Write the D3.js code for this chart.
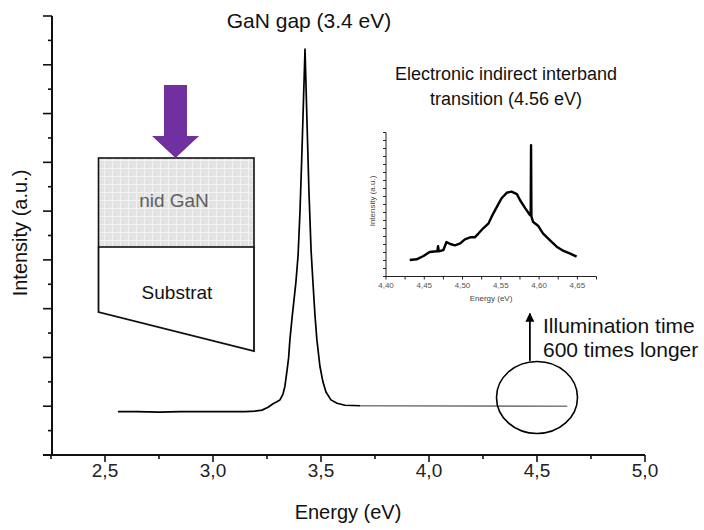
<!DOCTYPE html>
<html>
<head>
<meta charset="utf-8">
<script src="https://cdn.jsdelivr.net/npm/d3@7"></script>
<style>
  html, body { margin: 0; padding: 0; background: #fff; }
  svg { display: block; font-family: "Liberation Sans", Arial, sans-serif; }
</style>
</head>
<body>
<svg id="chart" width="704" height="530"></svg>
<script>
// ---- main spectrum (photoluminescence) ----
const mainEnergy = [2.56, 2.65, 2.75, 2.85, 2.95, 3.05, 3.15, 3.194, 3.227, 3.255, 3.278, 3.296, 3.31, 3.324, 3.333, 3.343, 3.35, 3.356, 3.366, 3.375, 3.384, 3.394, 3.403, 3.412, 3.426, 3.435, 3.444, 3.454, 3.463, 3.472, 3.481, 3.495, 3.509, 3.523, 3.546, 3.574, 3.611, 3.681];
const mainIntensity = [0.89, 0.89, 0.88, 0.89, 0.89, 0.89, 0.89, 0.90, 0.92, 0.98, 1.05, 1.09, 1.13, 1.25, 1.41, 1.74, 1.99, 2.36, 2.81, 3.18, 3.55, 4.10, 5.02, 6.25, 8.32, 6.86, 5.43, 4.20, 3.52, 2.87, 2.36, 1.82, 1.50, 1.29, 1.13, 1.06, 1.02, 1.01];
// grey tail (long illumination region)
const tailEnergy = [3.681, 4.64];
const tailIntensity = [1.01, 1.0];
// ---- inset spectrum ----
const insetEnergy = [4.431, 4.440, 4.449, 4.457, 4.466, 4.467, 4.468, 4.469, 4.475, 4.479, 4.484, 4.490, 4.497, 4.503, 4.510, 4.516, 4.521, 4.527, 4.534, 4.538, 4.545, 4.551, 4.558, 4.564, 4.571, 4.575, 4.582, 4.588, 4.589, 4.5895, 4.590, 4.592, 4.599, 4.605, 4.614, 4.623, 4.632, 4.640, 4.649];
const insetIntensity = [2.06, 2.15, 2.56, 3.06, 3.15, 3.15, 3.8, 3.15, 3.31, 4.31, 4.06, 3.9, 4.15, 4.65, 4.9, 4.9, 5.4, 6.03, 6.65, 7.48, 8.73, 9.78, 10.48, 10.6, 10.3, 9.56, 8.52, 7.69, 7.6, 16.4, 7.5, 6.85, 6.31, 5.4, 4.56, 3.73, 3.19, 2.9, 2.48];
// ---- ticks ----
const mainXTicks = [2.5, 3.0, 3.5, 4.0, 4.5, 5.0];
const mainXTickLabels = ["2,5", "3,0", "3,5", "4,0", "4,5", "5,0"];
const insetXTicks = [4.40, 4.45, 4.50, 4.55, 4.60, 4.65];
const insetXTickLabels = ["4,40", "4,45", "4,50", "4,55", "4,60", "4,65"];
// ---- texts ----
const titleGap = "GaN gap (3.4 eV)";
const insetTitle = ["Electronic indirect interband", "transition (4.56 eV)"];
const illumText = ["Illumination time", "600 times longer"];
const xLabel = "Energy (eV)";
const yLabel = "Intensity (a.u.)";
const layerLabels = ["nid GaN", "Substrat"];
// annotation ellipse (data coords)
const circleCenter = [4.50, 1.18];
const arrowFrom = [4.467, 1.93];
const arrowTo = [4.467, 2.90];

const svg = d3.select("#chart");
const defs = svg.append("defs");

// ---------- main axes ----------
const x = d3.scaleLinear().domain([2.25, 5.0]).range([51, 645]);
const y = d3.scaleLinear().domain([0, 9]).range([455, 16]);

const gMain = svg.append("g");
// x axis
const xMinor = d3.range(2.25, 5.001, 0.25).filter(v => !mainXTicks.some(t => Math.abs(t - v) < 1e-6));
const xAxisG = gMain.append("g").attr("transform", "translate(0,455)");
xAxisG.append("line").attr("x1", 43).attr("x2", 645).attr("y1", 0).attr("y2", 0).attr("stroke", "#111").attr("stroke-width", 2);
xAxisG.selectAll("line.maj").data(mainXTicks).join("line").attr("class", "maj")
  .attr("x1", d => x(d)).attr("x2", d => x(d)).attr("y1", 0).attr("y2", 7).attr("stroke", "#111").attr("stroke-width", 1.6);
xAxisG.selectAll("line.min").data(xMinor).join("line").attr("class", "min")
  .attr("x1", d => x(d)).attr("x2", d => x(d)).attr("y1", 0).attr("y2", 4).attr("stroke", "#111").attr("stroke-width", 1.6);
xAxisG.selectAll("text").data(mainXTicks).join("text")
  .attr("x", d => x(d)).attr("y", 22).attr("text-anchor", "middle")
  .attr("font-size", 19).attr("fill", "#222").text((d, i) => mainXTickLabels[i]);

// y axis
const yAll = d3.range(0, 9.001, 0.5);
const yAxisG = gMain.append("g").attr("transform", "translate(52,0)");
yAxisG.append("line").attr("x1", 0).attr("x2", 0).attr("y1", y(9)).attr("y2", y(0)).attr("stroke", "#111").attr("stroke-width", 2);
yAxisG.selectAll("line.t").data(yAll).join("line").attr("class", "t")
  .attr("x1", d => (Math.abs(d - Math.round(d)) < 1e-6) ? -9 : -4).attr("x2", 0)
  .attr("y1", d => y(d)).attr("y2", d => y(d)).attr("stroke", "#111").attr("stroke-width", 1.6);

// axis titles
svg.append("text").attr("x", 348).attr("y", 519).attr("text-anchor", "middle")
  .attr("font-size", 20).attr("fill", "#111").text(xLabel);
svg.append("text").attr("transform", "translate(27,233) rotate(-90)").attr("text-anchor", "middle")
  .attr("font-size", 20).attr("fill", "#111").text(yLabel);

// main curve
const line = d3.line().x(d => x(d[0])).y(d => y(d[1]));
gMain.append("path").datum(tailEnergy.map((e, i) => [e, tailIntensity[i]]))
  .attr("d", line).attr("fill", "none").attr("stroke", "#7f7f7f").attr("stroke-width", 1.6);
gMain.append("path").datum(mainEnergy.map((e, i) => [e, mainIntensity[i]]))
  .attr("d", line).attr("fill", "none").attr("stroke", "#000").attr("stroke-width", 1.7).attr("stroke-linejoin", "round");

svg.append("text").attr("x", 309).attr("y", 28).attr("text-anchor", "middle")
  .attr("font-size", 21).attr("fill", "#111").text(titleGap);

// ---------- layer diagram ----------
const pat = defs.append("pattern").attr("id", "grid").attr("patternUnits", "userSpaceOnUse")
  .attr("width", 8).attr("height", 8);
pat.append("rect").attr("width", 8).attr("height", 8).attr("fill", "#e3e3e3");
pat.append("path").attr("d", "M0,0.5H8M0.5,0V8").attr("stroke", "#f3f3f3").attr("stroke-width", 1);
pat.append("circle").attr("cx", 4).attr("cy", 4).attr("r", 0.6).attr("fill", "#f6f6f6");
pat.append("circle").attr("cx", 2.5).attr("cy", 6).attr("r", 0.5).attr("fill", "#d0d0d0");

svg.append("rect").attr("x", 98.5).attr("y", 158).attr("width", 155.5).attr("height", 89)
  .attr("fill", "url(#grid)").attr("stroke", "#111").attr("stroke-width", 1.6);
svg.append("path").attr("d", "M98.5,247 L98.5,312 L254,351 L254,247")
  .attr("fill", "none").attr("stroke", "#111").attr("stroke-width", 1.8).attr("stroke-linejoin", "miter");
svg.append("text").attr("x", 174).attr("y", 207).attr("text-anchor", "middle")
  .attr("font-size", 19).attr("fill", "#606060").text(layerLabels[0]);
svg.append("text").attr("x", 177).attr("y", 299).attr("text-anchor", "middle")
  .attr("font-size", 19).attr("fill", "#111").text(layerLabels[1]);
svg.append("path").attr("d", "M164,85 L187,85 L187,136 L199,136 L175.5,158 L152,136 L164,136 Z")
  .attr("fill", "#7030a0");

// ---------- inset ----------
const xi = d3.scaleLinear().domain([4.40, 4.675]).range([386, 596.5]);
const yi = d3.scaleLinear().domain([0, 18]).range([276.5, 132.5]);
const gIn = svg.append("g");
gIn.append("line").attr("x1", 386).attr("x2", 596.5).attr("y1", 276.5).attr("y2", 276.5).attr("stroke", "#222").attr("stroke-width", 1);
gIn.append("line").attr("x1", 386).attr("x2", 386).attr("y1", 132.5).attr("y2", 276.5).attr("stroke", "#222").attr("stroke-width", 1);
const xiTicks = d3.range(4.40, 4.6751, 0.025);
gIn.selectAll("line.xt").data(xiTicks).join("line").attr("class", "xt")
  .attr("x1", d => xi(d)).attr("x2", d => xi(d)).attr("y1", 276.5).attr("y2", 279.5).attr("stroke", "#222").attr("stroke-width", 1);
gIn.selectAll("line.yt").data(d3.range(0, 18.001, 1)).join("line").attr("class", "yt")
  .attr("x1", 383).attr("x2", 386).attr("y1", d => yi(d)).attr("y2", d => yi(d)).attr("stroke", "#222").attr("stroke-width", 1);
gIn.selectAll("text.xl").data(insetXTicks).join("text").attr("class", "xl")
  .attr("x", d => xi(d)).attr("y", 288).attr("text-anchor", "middle")
  .attr("font-size", 8).attr("fill", "#555").text((d, i) => insetXTickLabels[i]);
gIn.append("text").attr("x", 491).attr("y", 301).attr("text-anchor", "middle")
  .attr("font-size", 8).attr("fill", "#444").text(xLabel);
gIn.append("text").attr("transform", "translate(375,201) rotate(-90)").attr("text-anchor", "middle")
  .attr("font-size", 8).attr("fill", "#444").text(yLabel);
const lineI = d3.line().x(d => xi(d[0])).y(d => yi(d[1]));
gIn.append("path").datum(insetEnergy.map((e, i) => [e, insetIntensity[i]]))
  .attr("d", lineI).attr("fill", "none").attr("stroke", "#000").attr("stroke-width", 2.4).attr("stroke-linejoin", "round");

svg.selectAll("text.it").data(insetTitle).join("text").attr("class", "it")
  .attr("x", 506).attr("y", (d, i) => 80 + i * 25).attr("text-anchor", "middle")
  .attr("font-size", 18).attr("fill", "#111").text(d => d);

// ---------- annotation ----------
svg.append("ellipse").attr("cx", x(circleCenter[0])).attr("cy", y(circleCenter[1]))
  .attr("rx", 40.5).attr("ry", 36).attr("fill", "none").attr("stroke", "#000").attr("stroke-width", 1.6);
defs.append("marker").attr("id", "ah").attr("viewBox", "0 0 10 10").attr("refX", 9).attr("refY", 5)
  .attr("markerWidth", 5).attr("markerHeight", 5).attr("orient", "auto-start-reverse")
  .append("path").attr("d", "M0,0 L10,5 L0,10 Z").attr("fill", "#000");
svg.append("line").attr("x1", x(arrowFrom[0])).attr("y1", y(arrowFrom[1]))
  .attr("x2", x(arrowTo[0])).attr("y2", y(arrowTo[1]))
  .attr("stroke", "#000").attr("stroke-width", 1.8).attr("marker-end", "url(#ah)");
svg.selectAll("text.il").data(illumText).join("text").attr("class", "il")
  .attr("x", 543).attr("y", (d, i) => 333 + i * 24).attr("text-anchor", "start")
  .attr("font-size", 21).attr("fill", "#111").text(d => d);
</script>
</body>
</html>
